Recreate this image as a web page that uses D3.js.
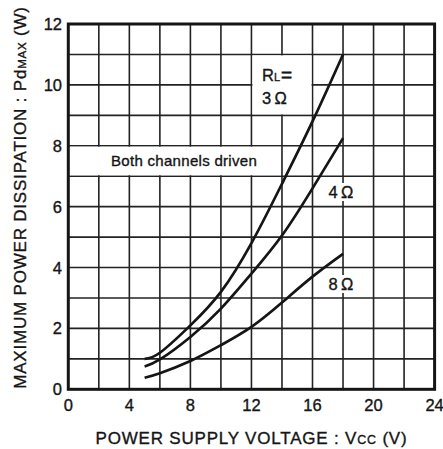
<!DOCTYPE html>
<html><head><meta charset="utf-8">
<script src="https://cdn.jsdelivr.net/npm/d3@7"></script>
<style>html,body{margin:0;padding:0;background:#fff;}svg{display:block;font-family:"Liberation Sans",Arial,Helvetica,sans-serif;}
text{fill:#151515;stroke:#151515;stroke-width:0.35px;}</style>
</head><body>
<script>
// Data
const volts = [5, 6, 8, 10, 12, 14, 16, 18];
const p3ohm = [1.0, 1.2, 2.1, 3.2, 4.8, 6.75, 8.8, 11.0];
const p4ohm = [0.75, 0.98, 1.72, 2.65, 3.8, 5.05, 6.6, 8.25];
const p8ohm = [0.38, 0.53, 0.93, 1.45, 2.05, 2.85, 3.7, 4.45];
const xTicks = [0, 4, 8, 12, 16, 20, 24];
const yTicks = [0, 2, 4, 6, 8, 10, 12];

const W = 443, H = 449;
const svg = d3.select("body").append("svg").attr("width", W).attr("height", H);
const x = d3.scaleLinear().domain([0, 24]).range([68.3, 434.6]);
const y = d3.scaleLinear().domain([0, 12]).range([389.3, 24]);

// grid
const g = svg.append("g");
g.selectAll(".vg").data(d3.range(2, 24, 2)).join("line")
  .attr("x1", d => x(d)).attr("x2", d => x(d)).attr("y1", y(0)).attr("y2", y(12))
  .attr("stroke", "#222").attr("stroke-width", 1.6);
g.selectAll(".hg").data(d3.range(1, 12, 1)).join("line")
  .attr("y1", d => y(d)).attr("y2", d => y(d)).attr("x1", x(0)).attr("x2", x(24))
  .attr("stroke", "#222").attr("stroke-width", 1.6);

// white label areas over the grid
svg.append("rect").attr("x", x(12) + 1).attr("y", y(11) + 1)
  .attr("width", x(16) - x(12) - 2).attr("height", y(9) - y(11) - 2).attr("fill", "#fff");
svg.append("rect").attr("x", x(0) + 1).attr("y", y(8) + 1)
  .attr("width", x(14) - x(0) - 2).attr("height", y(7) - y(8) - 2).attr("fill", "#fff");

// frame
svg.append("rect").attr("x", x(0)).attr("y", y(12)).attr("width", x(24) - x(0)).attr("height", y(0) - y(12))
  .attr("fill", "none").attr("stroke", "#151515").attr("stroke-width", 3);

// curves
const line = d3.line().x(d => x(d[0])).y(d => y(d[1])).curve(d3.curveNatural);
[p3ohm, p4ohm, p8ohm].forEach(s => {
  svg.append("path").datum(volts.map((v, i) => [v, s[i]])).attr("d", line)
    .attr("fill", "none").attr("stroke", "#151515").attr("stroke-width", 2.7).attr("stroke-linecap", "butt");
});

// tick labels
svg.selectAll(".xt").data(xTicks).join("text")
  .attr("x", d => x(d)).attr("y", 411).attr("text-anchor", "middle")
  .attr("font-size", 16.5).text(d => d);
svg.selectAll(".yt").data(yTicks).join("text")
  .attr("x", 62).attr("y", d => y(d) + 6).attr("text-anchor", "end")
  .attr("font-size", 16.5).text(d => d);

// in-plot labels
function label(tx, ty, content, bg) {
  const t = svg.append("text").attr("x", tx).attr("y", ty).attr("font-size", 16.5);
  content(t);
  if (bg) {
    const b = t.node().getBBox();
    svg.insert("rect", "text").attr("x", b.x - 2).attr("y", b.y).attr("width", b.width + 4).attr("height", b.height).attr("fill", "#fff");
  }
  return t;
}
label(111, 166, t => t.attr("font-size", 15).attr("letter-spacing", 0.3).text("Both channels driven"), false);
label(262, 81, t => { t.append("tspan").text("R"); t.append("tspan").attr("font-size", 11).text("L");
  t.append("tspan").attr("dx", 1).attr("font-size", 19).attr("stroke-width", 0.6).text("="); }, false);
label(262, 104, t => t.text("3\u2009\u03A9"), false);
label(341, 198, t => t.attr("text-anchor", "middle").text("4\u2009\u03A9"), true);
label(341, 290, t => t.attr("text-anchor", "middle").text("8\u2009\u03A9"), true);

// axis titles
const xt = svg.append("text").attr("x", 251.5).attr("y", 444).attr("text-anchor", "middle")
  .attr("font-size", 17).attr("letter-spacing", 0.8);
xt.append("tspan").text("POWER SUPPLY VOLTAGE : V");
xt.append("tspan").attr("font-size", 12.5).text("CC");
xt.append("tspan").text(" (V)");

const yt = svg.append("text").attr("transform", "translate(25.5,197.5) rotate(-90)").attr("text-anchor", "middle")
  .attr("font-size", 17).attr("letter-spacing", 0.8);
yt.append("tspan").text("MAXIMUM POWER DISSIPATION : Pd");
yt.append("tspan").attr("font-size", 11.5).text("MAX");
yt.append("tspan").text(" (W)");
</script>
</body></html>
